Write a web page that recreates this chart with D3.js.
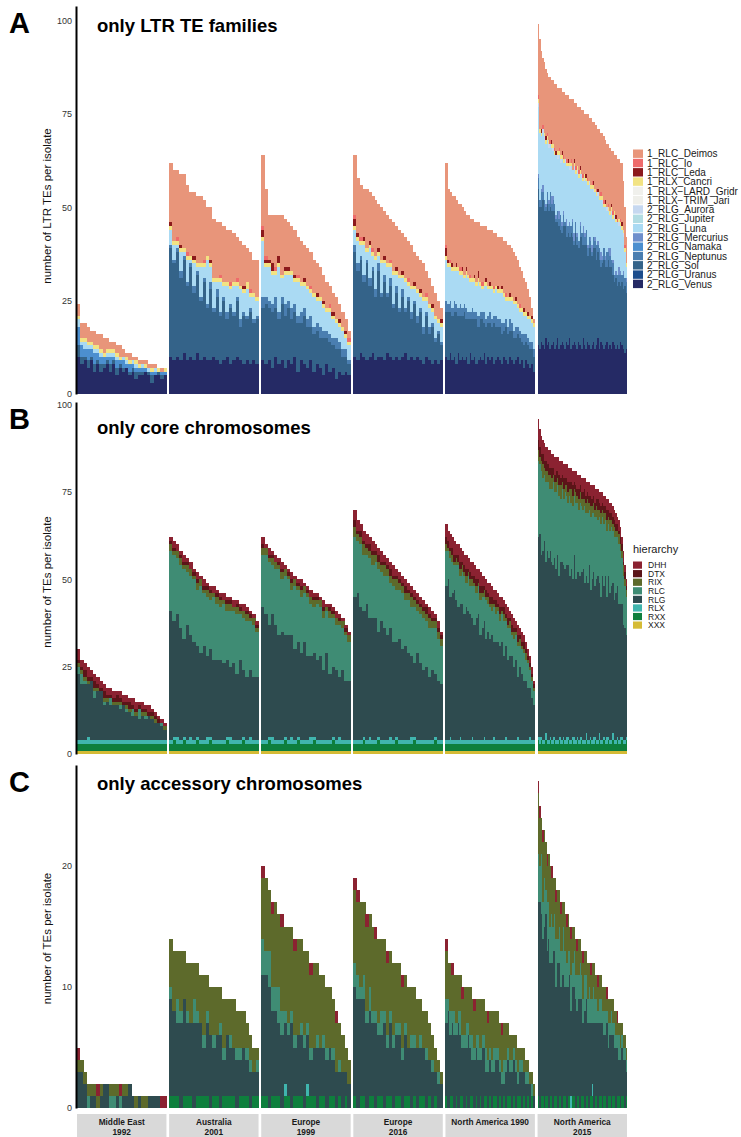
<!DOCTYPE html>
<html>
<head>
<meta charset="utf-8">
<script src="https://d3js.org/d3.v7.min.js"></script>
<style>
  body { margin: 0; background: #fff; }
  svg { font-family: "Liberation Sans", Arial, Helvetica, sans-serif; display: block; }
</style>
</head>
<body>
<script>
// populations (facets), in plotting order
var populations = ["Middle East 1992", "Australia 2001", "Europe 1999", "Europe 2016", "North America 1990", "North America 2015"];
var stripLines = [["Middle East", "1992"], ["Australia", "2001"], ["Europe", "1999"], ["Europe", "2016"], ["North America 1990"], ["North America", "2015"]];

// ---------- panel A : LTR TE families, one array per population ----------
var ltrTotal = [
  [24,19,19,18,17,17,16,16,15,15,14,14,13,13,12,11,11,10,10,9,9,9,8,8,8,7,7,7],
  [62,60,60,59,59,56,54,54,53,53,52,50,50,47,46,46,45,44,44,43,42,41,40,39,38,36,36],
  [64,55,48,48,48,48,48,47,46,45,44,42,41,40,39,38,36,35,34,32,30,29,27,26,24,22,20,17],
  [64,58,56,55,55,54,53,52,51,50,49,48,47,46,45,44,43,42,41,40,38,37,36,35,33,31,29,27,25,23],
  [62,55,54,53,53,52,51,51,50,49,48,48,47,47,46,46,46,45,45,45,45,44,44,44,43,43,42,42,42,41,41,40,40,39,38,37,36,34,33,31,30,28,26,23,20],
  [99,95,92,90,89,87,86,85,85,84,84,83,83,82,82,82,81,81,80,80,80,79,79,79,78,78,77,77,77,76,76,75,75,75,74,74,73,73,72,72,71,71,70,70,69,68,67,67,66,65,65,64,64,63,63,62,62,57,50,42]
];
var ltrVenus = [
  [10,8,9,7,9,6,8,6,7,8,6,8,5,7,6,7,5,6,4,5,5,6,5,3,5,5,4,5],
  [10,9,10,9,11,9,10,9,11,9,10,9,9,10,9,8,9,10,8,9,10,9,8,9,8,9,8],
  [9,8,9,7,10,8,9,7,9,8,10,6,9,8,7,9,6,8,7,5,8,6,7,4,6,5,6,5],
  [10,9,11,10,9,10,11,9,10,10,9,11,10,9,10,9,10,11,9,10,9,10,9,8,10,9,8,9,8,9],
  [10,9,11,9,10,8,11,9,10,9,10,8,11,9,10,8,9,10,9,11,8,10,9,10,8,9,10,9,8,10,9,8,10,9,8,9,10,8,9,7,9,8,7,8,6],
  [13,12,14,13,12,15,13,14,12,13,14,12,13,15,12,13,14,13,12,14,13,15,12,13,14,13,12,14,13,12,15,13,12,14,13,12,13,14,12,13,15,12,14,13,12,13,14,12,13,12,14,13,12,13,12,14,13,12,11,12]
];
var ltrSol = [
  [3,2,1,2,1,2,1,2,1,1,2,1,2,1,1,0,1,1,2,1,1,0,1,2,0,1,1,0],
  [29,26,28,22,25,20,24,18,21,16,20,14,19,12,17,13,16,10,15,12,15,9,13,11,14,10,12],
  [14,16,14,15,13,12,15,14,14,12,12,13,10,13,11,9,10,9,8,10,7,8,6,8,6,5,4,3],
  [28,24,25,20,26,19,22,17,23,16,21,15,19,14,17,13,16,11,16,10,15,9,13,8,11,7,10,5,8,4],
  [12,13,11,12,12,14,10,12,11,13,10,12,9,11,10,12,9,10,11,8,10,9,10,8,11,9,8,9,8,7,9,8,7,8,7,6,6,7,5,6,5,5,5,4,4],
  [42,38,36,39,37,34,38,35,38,36,35,37,33,31,33,31,29,32,33,28,30,27,31,29,26,30,28,25,29,30,25,27,28,23,26,27,24,25,27,23,23,24,20,22,24,21,20,24,21,22,18,17,19,16,18,15,17,16,18,15]
];
var ltrNeptunus = [
  [],
  [1,1,1,2,1,1,1,2,1,1,1,1,2,1,2,1,1,2,1,1,1,2,1,1,1,1,1],
  [3,2,2,2,3,2,2,3,2,3,2,2,3,2,2,3,2,2,3,2,2,2,2,3,2,2,2,1],
  [2,2,1,2,1,2,1,2,2,1,2,1,2,1,2,1,2,1,1,2,1,2,1,2,1,2,1,1,1,1],
  [3,2,3,2,3,2,2,3,2,2,3,2,2,3,2,2,3,2,2,3,2,2,3,2,2,3,2,2,3,2,2,2,3,2,2,3,2,2,2,3,2,2,2,2,2],
  [3,2,4,2,3,1,3,2,4,2,3,2,1,3,2,4,2,3,1,3,2,3,2,4,1,3,2,2,3,1,3,2,4,2,3,2,1,3,2,4,2,3,2,1,3,2,4,2,3,2,3,2,1,3,2,3,2,4,2,3]
];
var ltrNamaka = [
  [5,3,2,3,2,3,2,2,2,1,2,1,2,1,2,1,2,1,1,1,1,1,0,1,1,0,1,1],
  [], [], [], [], []
];
var ltrMercurius = [
  [], [], [], [], [],
  [1,0,1,2,0,1,0,1,0,2,1,0,1,0,2,0,1,1,0,2,0,1,0,1,2,0,1,0,1,0,2,1,0,1,0,1,2,0,1,0,1,0,2,1,0,1,0,1,2,0,1,0,1,0,2,1,0,1,0,1]
];
var ltrLuna = [
  [2,1,2,1,1,1,1,1,0,1,1,1,1,0,1,1,0,1,1,0,1,0,1,0,1,0,0,0],
  [4,4,1,5,1,6,1,6,1,8,3,12,4,7,2,8,3,7,4,7,3,8,5,7,3,6,4],
  [15,8,9,8,6,12,5,8,7,9,6,9,7,6,8,6,8,6,7,6,5,6,5,4,4,5,3,4],
  [4,6,3,8,2,8,3,8,2,8,3,7,3,8,3,8,3,7,3,6,3,6,3,7,3,5,3,5,2,4],
  [11,10,9,10,8,9,10,8,9,7,9,9,8,7,8,7,9,7,6,7,9,7,6,8,6,7,7,7,8,7,5,7,5,6,7,6,5,5,6,5,5,5,6,5,6],
  [18,18,14,14,16,16,14,14,13,13,12,13,16,14,15,14,17,13,16,14,16,14,16,13,17,13,16,17,13,15,12,14,13,16,14,13,15,12,12,13,12,13,14,14,11,13,11,10,9,12,11,15,13,14,11,12,12,9,7,3]
];
var ltrAurora = [
  [], [], [], [], [],
  [1,0,0,1,1,0,0,1,0,0,1,0,0,1,0,1,0,0,1,0,0,1,0,0,1,0,1,0,0,1,0,1,0,0,1,0,0,1,0,0,1,0,0,1,0,0,1,0,0,1,0,1,0,0,1,0,0,1,0,0]
];
var ltrCancri = [
  [1,1,1,1,1,1,1,1,1,1,1,1,1,1,0,1,1,0,1,1,0,1,0,1,0,1,0,1],
  [1,1,1,1,1,1,1,1,1,1,1,1,1,1,1,1,1,1,1,1,1,1,1,2,1,1,1],
  [1,1,1,1,1,1,1,1,1,1,1,1,1,1,1,1,1,1,1,1,1,1,1,1,1,1,1,1],
  [1,1,1,1,1,1,1,1,1,1,1,1,1,1,1,1,1,1,1,1,1,1,1,1,1,1,1,1,1,1],
  [1,1,1,1,1,1,1,1,1,1,1,1,1,1,1,1,1,1,1,1,1,1,1,1,1,1,1,1,1,1,1,1,1,1,1,1,1,1,1,1,1,1,1,1,1],
  [1,1,1,0,1,1,1,1,0,1,1,1,0,1,1,1,1,1,0,1,1,1,1,0,1,1,1,1,1,0,1,1,1,1,0,1,1,1,1,1,0,1,1,1,1,1,0,1,1,1,1,1,1,0,1,1,1,1,1,1]
];
var ltrLeda = [
  [],
  [1,0,0,1,0,0,0,1,0,0,0,0,1,0,0,0,0,0,0,0,0,0,1,0,0,0,0],
  [2,1,1,2,0,2,0,1,1,0,1,0,0,1,0,0,0,1,0,1,0,0,1,0,1,0,1,0],
  [2,1,0,1,0,1,0,0,1,0,1,0,0,0,1,0,1,0,0,0,1,0,1,0,0,0,1,0,0,1],
  [2,1,0,1,0,1,0,0,1,0,1,0,0,0,1,0,2,0,0,0,1,0,1,0,0,0,1,0,1,0,0,0,1,0,0,1,0,0,0,1,0,1,0,1,0],
  [0,0,1,0,0,1,0,0,0,1,0,0,1,0,0,0,1,0,0,0,1,0,0,0,1,0,0,0,1,0,0,0,1,0,0,0,0,1,0,0,1,0,0,0,0,1,0,0,0,1,0,0,1,0,0,0,1,0,0,0]
];
var ltrIo = [
  [],
  [0,0,1,0,0,1,0,0,0,0,1,0,0,0,0,1,0,0,1,0,1,0,0,0,1,0,0],
  [1,1,0,0,1,0,0,0,0,0,0,1,0,0,0,1,0,0,0,0,0,1,0,0,0,0,0,1],
  [1,0,1,0,0,0,1,0,0,0,0,0,1,0,0,0,0,0,1,0,0,0,0,0,1,0,0,0,0,0],
  [1,0,1,0,0,0,0,1,0,0,0,0,1,0,0,0,0,0,1,0,0,0,0,0,1,0,0,0,0,0,1,0,0,0,0,0,0,1,0,0,0,0,0,0,0],
  [1,0,0,1,0,0,1,0,1,0,0,1,0,0,1,0,0,1,0,1,0,0,1,0,0,1,0,1,0,0,1,0,0,1,0,0,1,0,0,1,0,0,1,0,1,0,0,1,0,0,1,0,0,1,0,1,0,0,1,0]
];
// Deimos (top layer) is whatever remains of the total

var ltrLegend = ["1_RLC_Deimos", "1_RLC_Io", "1_RLC_Leda", "1_RLX_Cancri", "1_RLX\u2212LARD_Gridr", "1_RLX\u2212TRIM_Jari", "2_RLG_Aurora", "2_RLG_Jupiter", "2_RLG_Luna", "2_RLG_Mercurius", "2_RLG_Namaka", "2_RLG_Neptunus", "2_RLG_Sol", "2_RLG_Uranus", "2_RLG_Venus"];
var ltrColors = ["#e8957a", "#ee6b6b", "#8c1a1c", "#f2e383", "#f0f0ec", "#efefea", "#c6d8f0", "#b2dce3", "#aadaf3", "#6e8fcc", "#4c8fcf", "#4a7eb0", "#346389", "#1d4d8c", "#252a65"];

// ---------- panel B : core chromosomes ----------
var coreTotal = [
  [30,27,26,25,24,23,22,21,20,19,19,18,18,18,17,17,16,16,15,15,15,14,14,13,12,11,10,9],
  [62,61,60,58,57,56,55,53,52,51,50,49,48,48,47,46,46,45,45,44,44,43,43,42,41,40,38],
  [62,60,59,58,57,56,55,54,53,52,51,50,50,49,48,47,46,46,45,44,43,43,42,41,40,39,37,35],
  [70,67,66,64,63,62,61,60,59,58,57,56,55,54,53,52,51,50,49,48,47,46,45,44,43,42,41,40,38,35],
  [66,64,63,62,61,60,60,59,58,57,57,56,55,55,54,53,53,52,51,51,50,49,49,48,47,47,46,45,45,44,43,42,41,40,39,38,37,36,35,34,32,30,28,25,21],
  [96,93,91,90,89,88,88,87,87,86,86,85,85,85,84,84,84,83,83,83,82,82,82,81,81,81,80,80,80,79,79,79,78,78,78,77,77,77,76,76,76,75,75,75,74,74,73,73,72,72,71,70,69,68,67,65,62,58,54,50]
];
var coreXXX = [
  [1,1,1,1,1,1,1,1,1,1,1,1,1,1,1,1,1,1,1,1,1,1,1,1,1,1,1,1],
  [1,1,1,1,1,1,1,1,1,1,1,1,1,1,1,1,1,1,1,1,1,1,1,1,1,1,1],
  [1,1,1,1,1,1,1,1,1,1,1,1,1,1,1,1,1,1,1,1,1,1,1,1,1,1,1,1],
  [1,1,1,1,1,1,1,1,1,1,1,1,1,1,1,1,1,1,1,1,1,1,1,1,1,1,1,1,1,1],
  [1,1,1,1,1,1,1,1,1,1,1,1,1,1,1,1,1,1,1,1,1,1,1,1,1,1,1,1,1,1,1,1,1,1,1,1,1,1,1,1,1,1,1,1,1],
  [1,1,1,1,1,1,1,1,1,1,1,1,1,1,1,1,1,1,1,1,1,1,1,1,1,1,1,1,1,1,1,1,1,1,1,1,1,1,1,1,1,1,1,1,1,1,1,1,1,1,1,1,1,1,1,1,1,1,1,1]
];
var coreRXX = [
  [2,2,2,2,2,2,2,2,2,2,2,2,2,2,2,2,2,2,2,2,2,2,2,2,2,2,2,2],
  [2,3,2,2,3,2,2,2,3,2,2,2,3,2,2,2,2,3,2,2,2,2,3,2,2,2,2],
  [2,2,3,2,2,2,2,3,2,2,2,3,2,2,2,2,3,2,2,2,2,2,3,2,2,2,2,2],
  [2,2,2,3,2,2,2,2,3,2,2,2,2,2,3,2,2,2,2,2,3,2,2,2,2,2,2,3,2,2],
  [2,2,2,2,2,2,2,2,2,2,2,2,2,2,2,2,2,2,2,2,2,2,2,2,2,2,2,2,2,2,2,2,2,2,2,2,2,2,2,2,2,2,2,2,2],
  [3,2,3,2,2,3,2,2,3,2,2,3,2,2,3,2,2,3,2,2,3,2,2,3,2,2,3,2,2,3,2,2,3,2,2,3,2,2,3,2,2,3,2,2,3,2,2,3,2,2,3,2,2,3,2,2,3,2,2,3]
];
var coreRLX = [
  [1,1,1,2,1,1,1,1,1,1,1,1,1,1,1,1,1,1,1,1,1,1,1,1,1,1,1,1],
  [1,1,2,1,1,1,2,1,1,1,1,2,1,1,1,1,1,1,2,1,1,1,1,1,2,1,1],
  [1,1,1,2,1,1,1,1,1,2,1,1,1,1,1,2,1,1,1,1,1,1,1,1,2,1,1,1],
  [1,1,1,1,1,2,1,1,1,1,1,1,2,1,1,1,1,1,1,2,1,1,1,1,1,1,1,1,1,1],
  [1,1,2,1,1,1,1,2,1,1,1,1,1,2,1,1,1,1,1,2,1,1,1,1,2,1,1,1,1,1,2,1,1,1,1,1,2,1,1,1,1,1,2,1,1],
  [1,2,1,1,1,2,1,1,1,1,2,1,1,1,1,2,1,1,1,2,1,1,1,1,2,1,1,1,2,1,1,1,2,1,1,1,1,2,1,1,1,2,1,1,1,1,2,1,1,1,2,1,1,1,1,2,1,1,1,1]
];
var coreRLC = [
  [2,3,1,0,0,2,0,0,1,0,2,0,0,1,0,1,0,2,0,3,0,1,0,0,0,0,1,0],
  [17,19,16,18,20,15,17,18,16,19,15,17,14,18,16,15,17,14,16,15,17,13,15,16,14,15,13],
  [15,17,18,14,16,19,15,17,16,13,18,15,16,14,17,15,13,16,14,15,12,16,14,13,15,12,13,11],
  [17,15,18,16,14,17,15,16,18,14,15,17,13,16,15,14,16,13,15,14,16,12,14,15,13,14,12,13,12,11],
  [10,8,11,9,7,10,12,8,9,11,7,10,8,9,11,7,8,10,9,7,11,8,9,7,10,8,9,7,8,10,7,9,8,6,8,7,9,6,7,8,6,7,5,5,4],
  [22,20,24,21,19,23,20,22,18,21,24,19,22,20,23,18,21,19,22,20,18,23,19,21,17,22,20,18,21,19,17,22,18,20,16,21,19,17,20,18,16,19,21,17,18,16,19,15,18,17,15,18,16,14,17,15,13,14,12,11]
];
var coreRIX = [
  [1,1,1,1,0,1,1,0,1,1,0,1,1,1,0,1,1,0,1,0,1,1,0,1,1,0,0,1],
  [2,1,2,2,1,2,2,1,2,2,1,2,2,1,2,2,1,2,2,1,2,1,2,2,1,2,1],
  [2,2,1,2,2,1,2,2,1,2,2,1,2,2,1,2,2,1,2,2,1,2,1,2,1,2,1,2],
  [3,2,2,3,2,2,3,2,2,2,3,2,2,2,3,2,2,2,2,3,2,2,2,2,2,3,2,2,2,2],
  [2,1,2,2,1,2,1,2,2,1,2,1,2,2,1,2,1,2,1,2,1,2,1,2,1,2,1,2,1,2,1,1,2,1,2,1,1,2,1,1,2,1,1,1,1],
  [3,2,3,4,2,3,3,2,4,3,2,3,3,2,3,4,2,3,2,3,3,2,4,3,2,3,2,3,3,2,3,2,3,4,2,3,2,3,2,3,3,2,3,2,3,2,3,2,3,2,2,3,2,2,3,2,2,3,2,2]
];
var coreDTX = [
  [1,1,2,1,1,2,1,1,2,1,1,1,2,1,1,1,2,1,1,1,1,1,1,1,1,1,0,0],
  [1,1,0,1,1,1,0,1,1,0,1,1,1,0,1,1,0,1,1,0,1,1,0,1,1,0,1],
  [1,0,1,1,0,1,1,0,1,1,0,1,1,0,1,0,1,1,0,1,0,1,1,0,1,0,1,0],
  [2,1,2,1,1,2,1,1,2,1,1,1,2,1,1,1,1,2,1,1,1,1,1,1,2,1,1,1,1,1],
  [2,2,1,2,2,1,2,2,1,2,2,1,2,1,2,2,1,2,2,1,2,1,2,2,1,2,1,2,1,2,1,2,1,2,1,1,2,1,1,2,1,1,1,1,1],
  [3,3,2,3,2,3,2,3,2,3,2,2,3,2,3,2,2,3,2,2,3,2,2,3,2,2,2,3,2,2,2,3,2,2,2,3,2,2,2,2,3,2,2,2,2,2,3,2,2,2,2,2,2,2,1,2,2,1,2,1]
];
var coreDHH = [
  [3,2,2,3,2,2,2,2,2,2,2,2,1,2,2,2,1,2,2,1,2,1,2,1,1,1,1,1],
  [1,2,2,1,2,1,2,1,2,1,2,1,1,2,1,1,2,1,1,2,1,1,2,1,1,1,1],
  [2,1,2,1,2,1,2,1,1,2,1,1,2,1,1,2,1,1,1,2,1,1,1,2,1,1,1,1],
  [3,3,2,3,3,2,3,2,2,3,2,2,2,3,2,2,2,2,2,2,2,2,2,2,1,2,2,1,2,1],
  [4,3,4,3,4,3,3,4,3,3,4,3,3,4,3,3,3,4,3,3,3,3,4,3,3,3,3,3,3,2,3,3,2,3,3,2,3,2,3,2,2,2,2,2,1],
  [6,5,5,4,5,4,5,4,5,4,4,5,4,4,4,5,4,4,4,4,4,4,4,4,3,4,4,4,3,4,4,3,4,3,4,3,4,3,4,3,3,3,4,3,3,3,3,3,3,3,3,3,3,2,3,3,2,3,2,2]
];
// RLG fills the rest of each core total

// ---------- panel C : accessory chromosomes ----------
var accTotal = [
  [5,4,3,2,2,2,2,2,2,2,2,2,2,2,2,2,2,1,1,1,1,1,1,1,1,1,1,1],
  [14,13,13,13,13,12,12,12,12,11,11,11,10,10,10,10,9,9,9,9,8,8,8,7,6,5,5],
  [20,19,18,17,17,16,16,15,15,15,14,14,14,13,13,12,12,12,11,11,10,10,9,8,7,6,5,4],
  [19,18,17,17,16,16,15,15,14,14,14,13,13,12,12,12,11,11,10,10,10,9,9,8,8,7,6,5,4,3],
  [14,12,12,12,11,11,11,11,10,10,10,10,10,9,9,9,9,9,9,9,8,8,8,8,8,8,8,7,7,7,7,7,6,6,6,6,5,5,5,5,4,4,3,3,2],
  [27,25,24,23,23,22,21,21,20,20,19,19,18,18,18,17,17,17,16,16,16,15,15,15,15,14,14,14,14,13,13,13,13,12,12,12,12,12,11,11,11,11,11,10,10,10,10,9,9,9,9,8,8,8,7,7,7,6,6,5]
];
var accRXX = [
  [],
  [1,1,1,0,1,1,1,0,1,1,1,1,0,1,1,0,1,1,1,1,0,1,1,1,0,1,1],
  [1,1,0,1,1,1,0,1,1,0,1,1,1,0,1,1,1,0,1,1,0,1,1,0,1,0,1,0],
  [1,0,1,1,0,1,1,0,1,1,0,1,1,0,1,1,0,1,1,0,1,0,1,1,0,1,0,1,0,0],
  [1,0,1,1,0,1,0,1,1,0,1,0,1,1,0,1,0,1,0,1,1,0,1,0,1,1,0,1,0,1,0,1,1,0,1,0,1,1,0,1,0,1,0,1,0],
  [1,0,1,1,0,1,1,0,1,1,0,1,1,0,1,1,0,1,1,0,1,1,0,1,1,0,1,1,0,1,1,0,1,1,0,1,1,0,1,1,0,1,1,0,1,1,0,1,1,0,1,1,0,1,1,0,1,1,0,1]
];
var accRLX = [
  [], [],
  [0,0,0,0,0,0,0,1,0,0,0,0,0,0,1,0,0,0,0,0,0,0,0,0,0,0,0,0],
  [], [],
  [0,0,0,0,0,0,0,0,0,0,0,0,0,0,0,0,0,0,0,0,0,0,1,0,0,0,0,0,0,0,0,0,0,0,0,0,1,0,0,0,0,0,0,0,0,0,0,0,0,0,0,0,0,0,0,0,0,0,0,0]
];
var accRLC = [
  [0,0,0,1,0,0,0,0,0,0,1,1,0,1,0,0,0,0,0,0,0,0,0,0,0,0,0,0],
  [1,0,2,1,0,1,0,2,1,0,1,1,0,1,0,1,1,0,1,0,1,1,0,1,1,0,1],
  [3,2,3,2,2,3,2,1,1,1,1,0,1,1,1,1,0,1,0,1,1,0,1,0,1,0,0,0],
  [2,2,1,2,1,2,1,1,1,2,1,1,1,1,1,1,1,1,0,1,1,0,1,0,1,0,1,0,1,0],
  [2,1,2,1,2,1,1,2,1,1,2,1,1,2,1,1,2,1,1,1,2,1,1,1,2,1,1,1,1,2,1,1,1,1,1,1,1,1,1,0,1,1,0,1,0],
  [4,3,5,3,4,2,4,3,3,4,2,3,4,2,3,3,2,4,3,2,3,2,3,2,3,2,3,2,3,2,2,3,2,2,3,2,2,3,2,2,1,2,2,1,2,2,1,2,1,2,1,2,1,1,2,1,1,1,1,1]
];
var accRIX = [
  [1,1,1,1,1,1,1,1,0,0,1,1,1,0,1,1,0,0,1,0,1,1,0,0,0,0,0,0],
  [4,5,4,5,4,4,5,3,4,4,5,3,4,4,4,3,4,3,3,4,3,3,3,2,2,2,1],
  [5,6,5,6,7,6,7,7,8,7,7,8,7,7,6,6,7,6,6,5,5,5,4,4,3,3,2,2],
  [6,6,7,6,7,6,7,6,7,6,6,6,5,6,5,5,5,4,5,4,4,4,3,3,3,3,2,2,1,1],
  [4,3,4,3,3,4,3,3,3,4,3,3,4,3,3,3,3,4,3,3,3,3,3,4,3,3,3,3,3,3,3,2,2,2,1,2,2,1,1,2,1,1,1,1,1],
  [5,4,3,5,4,4,3,4,5,3,4,3,3,4,3,3,4,2,3,3,3,2,3,3,2,3,2,3,2,2,3,2,2,3,2,2,3,2,2,2,2,2,2,2,2,2,1,2,2,1,2,1,2,1,1,2,1,1,1,1]
];
var accDHH = [
  [1,0,0,0,0,0,1,0,0,0,0,0,0,1,0,0,0,0,0,0,0,0,0,0,0,0,1,1],
  [],
  [1,0,0,1,0,0,1,0,0,0,1,0,0,0,0,1,0,0,0,0,0,0,0,1,0,0,0,0],
  [1,1,0,0,1,0,0,1,0,0,0,1,0,0,0,0,1,0,0,0,0,0,0,0,0,0,0,0,0,0],
  [1,0,0,1,0,0,0,0,1,0,0,0,0,0,1,0,0,0,0,0,0,1,0,0,0,0,0,0,1,0,0,0,0,0,0,0,0,0,0,0,0,0,0,0,0],
  [1,1,0,1,0,0,1,0,0,1,0,0,1,0,0,1,0,0,0,1,0,0,1,0,0,0,1,0,0,0,1,0,0,0,0,1,0,0,0,0,1,0,0,0,0,0,1,0,0,0,0,0,0,1,0,0,0,0,0,0]
];
// RLG fills the rest of each accessory total

var hierLegend = ["DHH", "DTX", "RIX", "RLC", "RLG", "RLX", "RXX", "XXX"];
var hierColors = ["#8b2231", "#5b1418", "#5d6a2b", "#3f8c74", "#2e4b4f", "#40b5ae", "#0e7f3d", "#d5bb35"];

// ---------- drawing ----------
var W = 741, H = 1137;
var svg = d3.select("body").append("svg").attr("width", W).attr("height", H);

var facetX = d3.scaleBand().domain(populations).range([77, 627]).paddingInner(0.029);

var ltrColor = d3.scaleOrdinal().domain(ltrLegend).range(ltrColors);
var hierColor = d3.scaleOrdinal().domain(hierLegend).range(hierColors);

function drawPanel(cfg) {
  var ymax = d3.max(cfg.total, function (t) { return d3.max(t); }) * 1.05;
  var y = d3.scaleLinear().domain([0, ymax]).range([cfg.bottom, cfg.top]);

  populations.forEach(function (pop, p) {
    var n = cfg.total[p].length;
    var rows = d3.range(n).map(function (i) {
      var row = {}, sum = 0;
      cfg.keys.forEach(function (k) {
        if (k === cfg.rest) return;
        var arr = cfg.layers[k] ? cfg.layers[k][p] : null;
        var v = (arr && arr[i]) ? arr[i] : 0;
        row[k] = v;
        sum += v;
      });
      row[cfg.rest] = cfg.total[p][i] - sum;
      return row;
    });
    var series = d3.stack().keys(cfg.keys)(rows);
    var x = d3.scaleBand().domain(d3.range(n)).range([facetX(pop), facetX(pop) + facetX.bandwidth()]);
    var g = svg.append("g").attr("shape-rendering", "crispEdges");
    series.forEach(function (s) {
      g.selectAll(null)
        .data(s.filter(function (d) { return d[1] > d[0]; }))
        .enter().append("rect")
        .attr("x", function (d) { return x(s.indexOf(d)); })
        .attr("width", x.bandwidth() + 0.3)
        .attr("y", function (d) { return y(d[1]); })
        .attr("height", function (d) { return y(d[0]) - y(d[1]); })
        .attr("fill", cfg.color(s.key));
    });
  });

  var ax = svg.append("g").attr("transform", "translate(76,0)")
    .call(d3.axisLeft(y).tickValues(cfg.ticks).tickSize(0).tickPadding(4).tickSizeOuter(0));
  ax.select(".domain").attr("stroke", "#000").attr("stroke-width", 2);
  ax.selectAll("text").style("font-size", "9px").style("fill", "#333").style("font-family", "Liberation Sans, Arial, sans-serif");

  svg.append("text")
    .attr("transform", "translate(51," + ((cfg.top + cfg.bottom) / 2 + cfg.ytitleShift) + ") rotate(-90)")
    .attr("text-anchor", "middle")
    .style("font-size", "11.5px").style("fill", "#111")
    .text(cfg.ytitle);

  svg.append("text").attr("x", 9).attr("y", cfg.top + 27)
    .style("font-size", "29px").style("font-weight", "bold").text(cfg.letter);

  svg.append("text").attr("x", 97).attr("y", cfg.titleY)
    .style("font-size", "18.5px").style("font-weight", "bold").text(cfg.title);
}

var ltrKeys = ltrLegend.slice().reverse();
drawPanel({
  total: ltrTotal, keys: ltrKeys, rest: "1_RLC_Deimos", color: ltrColor,
  layers: {
    "2_RLG_Venus": ltrVenus, "2_RLG_Sol": ltrSol, "2_RLG_Neptunus": ltrNeptunus,
    "2_RLG_Namaka": ltrNamaka, "2_RLG_Mercurius": ltrMercurius, "2_RLG_Luna": ltrLuna,
    "2_RLG_Aurora": ltrAurora, "1_RLX_Cancri": ltrCancri, "1_RLC_Leda": ltrLeda, "1_RLC_Io": ltrIo
  },
  top: 6, bottom: 394, ticks: [0, 25, 50, 75, 100],
  ytitle: "number of LTR TEs per isolate", ytitleShift: 6, letter: "A", title: "only LTR TE families", titleY: 32
});

var hierKeys = hierLegend.slice().reverse();
drawPanel({
  total: coreTotal, keys: hierKeys, rest: "RLG", color: hierColor,
  layers: { "XXX": coreXXX, "RXX": coreRXX, "RLX": coreRLX, "RLC": coreRLC, "RIX": coreRIX, "DTX": coreDTX, "DHH": coreDHH },
  top: 402, bottom: 754, ticks: [0, 25, 50, 75, 100],
  ytitle: "number of TEs per isolate", ytitleShift: 4, letter: "B", title: "only core chromosomes", titleY: 434
});

drawPanel({
  total: accTotal, keys: hierKeys, rest: "RLG", color: hierColor,
  layers: { "RXX": accRXX, "RLX": accRLX, "RLC": accRLC, "RIX": accRIX, "DHH": accDHH },
  top: 765, bottom: 1108, ticks: [0, 10, 20],
  ytitle: "number of TEs per isolate", ytitleShift: 2, letter: "C", title: "only accessory chromosomes", titleY: 790
});

// facet strips under panel C
populations.forEach(function (pop, p) {
  var sx = facetX(pop), bw = facetX.bandwidth();
  svg.append("rect").attr("x", sx).attr("y", 1114).attr("width", bw).attr("height", 24).attr("fill", "#d9d9d9");
  stripLines[p].forEach(function (line, j) {
    svg.append("text").attr("x", sx + bw / 2).attr("y", 1124.5 + j * 10.5)
      .attr("text-anchor", "middle")
      .style("font-size", "8.3px").style("font-weight", "bold").style("fill", "#1a1a1a")
      .text(line);
  });
});

// legend A
var legA = svg.append("g").attr("transform", "translate(633,149.5)");
ltrLegend.forEach(function (k, i) {
  legA.append("rect").attr("x", 0).attr("y", i * 9.3).attr("width", 10).attr("height", 8.4).attr("fill", ltrColor(k));
  legA.append("text").attr("x", 14).attr("y", i * 9.3 + 7.8)
    .style("font-size", "10px").style("fill", "#1a1a1a").text(k);
});

// legend B
svg.append("text").attr("x", 633).attr("y", 553).style("font-size", "11px").style("fill", "#1a1a1a").text("hierarchy");
var legB = svg.append("g").attr("transform", "translate(633,561.5)");
hierLegend.forEach(function (k, i) {
  legB.append("rect").attr("x", 0).attr("y", i * 8.57).attr("width", 9).attr("height", 7.2).attr("fill", hierColor(k));
  legB.append("text").attr("x", 15).attr("y", i * 8.57 + 6.8)
    .style("font-size", "8.5px").style("fill", "#1a1a1a").text(k);
});
</script>
</body>
</html>
